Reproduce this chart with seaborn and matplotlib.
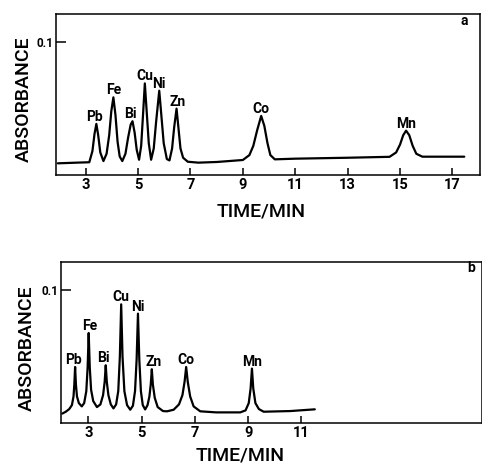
import matplotlib
matplotlib.use("Agg")
import matplotlib.pyplot as plt
import seaborn as sns
import pandas as pd

# ---------------- data ----------------
# panel a : chromatogram trace (time in min, absorbance)
time_a = [1.94, 2.80, 3.14, 3.26, 3.34, 3.41, 3.48, 3.56, 3.68,
          3.80, 3.90, 3.98, 4.06, 4.14, 4.22, 4.30, 4.40,
          4.52, 4.62, 4.72, 4.79, 4.87, 4.95, 5.04,
          5.12, 5.19, 5.26, 5.33, 5.41, 5.50,
          5.60, 5.69, 5.81, 5.89, 5.98, 6.10, 6.20,
          6.30, 6.38, 6.47, 6.54, 6.62, 6.72, 6.90, 7.30,
          8.00, 9.00, 9.25, 9.40, 9.55, 9.70, 9.82, 9.94, 10.05, 10.22,
          11.0, 13.0, 14.6, 14.85, 15.00, 15.12, 15.23, 15.35, 15.48, 15.62, 15.85, 17.45]
abs_a = [0.0088, 0.0094, 0.0096, 0.0180, 0.0310, 0.0385, 0.0300, 0.0170, 0.0105,
         0.0160, 0.0300, 0.0480, 0.0585, 0.0450, 0.0250, 0.0140, 0.0105,
         0.0160, 0.0280, 0.0380, 0.0405, 0.0320, 0.0190, 0.0115,
         0.0220, 0.0450, 0.0690, 0.0480, 0.0240, 0.0115,
         0.0200, 0.0400, 0.0635, 0.0450, 0.0240, 0.0120, 0.0110,
         0.0200, 0.0360, 0.0500, 0.0360, 0.0200, 0.0130, 0.0100, 0.0093,
         0.0098, 0.0113, 0.0150, 0.0220, 0.0340, 0.0445, 0.0370, 0.0240, 0.0150, 0.0118,
         0.0123, 0.0130, 0.0137, 0.0170, 0.0230, 0.0300, 0.0334, 0.0300, 0.0220, 0.0160, 0.0138, 0.0138]

# panel b : chromatogram trace
time_b = [2.02, 2.15, 2.28, 2.38, 2.44, 2.47, 2.50, 2.53, 2.57, 2.64, 2.75,
          2.84, 2.92, 2.97, 3.01, 3.05, 3.10, 3.18, 3.32,
          3.45, 3.55, 3.61, 3.65, 3.69, 3.75, 3.84, 3.94,
          4.04, 4.12, 4.18, 4.23, 4.28, 4.35, 4.45, 4.57,
          4.67, 4.75, 4.81, 4.86, 4.91, 4.97, 5.04, 5.13,
          5.22, 5.29, 5.34, 5.38, 5.42, 5.49, 5.60, 5.80, 5.95,
          6.20, 6.40, 6.53, 6.61, 6.67, 6.73, 6.82, 6.95, 7.20,
          7.80, 8.70, 8.90, 9.02, 9.09, 9.14, 9.19, 9.27, 9.40, 9.58,
          10.58, 11.50]
abs_b = [0.0071, 0.0085, 0.0105, 0.0135, 0.0200, 0.0290, 0.0422, 0.0290, 0.0200, 0.0150, 0.0125,
         0.0150, 0.0240, 0.0420, 0.0678, 0.0420, 0.0250, 0.0165, 0.0120,
         0.0140, 0.0210, 0.0310, 0.0435, 0.0310, 0.0210, 0.0140, 0.0110,
         0.0140, 0.0240, 0.0500, 0.0894, 0.0500, 0.0240, 0.0135, 0.0100,
         0.0130, 0.0240, 0.0480, 0.0824, 0.0480, 0.0240, 0.0135, 0.0102,
         0.0135, 0.0200, 0.0290, 0.0405, 0.0290, 0.0190, 0.0120, 0.0090, 0.0088,
         0.0100, 0.0140, 0.0210, 0.0310, 0.0422, 0.0310, 0.0200, 0.0125, 0.0088,
         0.0080, 0.0080, 0.0095, 0.0150, 0.0260, 0.0410, 0.0260, 0.0150, 0.0105, 0.0085,
         0.0090, 0.0103]

# peak labels
elements = ["Pb", "Fe", "Bi", "Cu", "Ni", "Zn", "Co", "Mn"]
peak_t_a = [3.41, 4.06, 4.79, 5.26, 5.81, 6.47, 9.70, 15.23]
peak_h_a = [0.0385, 0.0585, 0.0405, 0.0690, 0.0635, 0.0500, 0.0445, 0.0334]
peak_t_b = [2.50, 3.01, 3.65, 4.23, 4.86, 5.38, 6.67, 9.14]
peak_h_b = [0.0422, 0.0678, 0.0435, 0.0894, 0.0824, 0.0405, 0.0422, 0.0410]

xticks_a = [3, 5, 7, 9, 11, 13, 15, 17]
xticks_b = [3, 5, 7, 9, 11]
yticks = [0.1]
ytick_labels = ["0.1"]

# ---------------- style ----------------
sns.set_theme(style="ticks")
FONT = ["Roboto", "DejaVu Sans"]
plt.rcParams["font.family"] = FONT

W, H = 482, 465
fig = plt.figure(figsize=(W / 100, H / 100), dpi=100)

def px_axes(l, r, t, b):
    return fig.add_axes([l / W, 1 - b / H, (r - l) / W, (b - t) / H])

ax_a = px_axes(56, 480, 14, 175)
ax_b = px_axes(61, 481.5, 262, 423)

panels = [
    (ax_a, time_a, abs_a, peak_t_a, peak_h_a, xticks_a, (1.87, 18.05), "a", (0.485, -0.17), (-0.055, 0.47), (0.972, 0.957)),
    (ax_b, time_b, abs_b, peak_t_b, peak_h_b, xticks_b, (1.97, 17.76), "b", (0.426, -0.145), (-0.06, 0.467), (0.986, 0.965)),
]

label_dx = [-2, 0.5, -2.5, 0, 0, 1.5, 0, 0]

for ax, t, a, pt, ph, xt, xl, tag, xlc, ylc, tagpos in panels:
    df = pd.DataFrame({"time": t, "absorbance": a})
    sns.lineplot(data=df, x="time", y="absorbance", ax=ax, color="black",
                 linewidth=1.6, estimator=None, sort=False)
    ax.set_xlim(*xl)
    ax.set_ylim(0, 0.1213)
    ax.set_xticks(xt)
    ax.set_xticklabels([str(v) for v in xt], fontsize=10.5, fontweight="bold")
    ax.set_yticks(yticks)
    ax.set_yticklabels(ytick_labels, fontsize=8.5, fontweight="bold")
    ax.tick_params(axis="x", direction="in", length=5, width=1.1, pad=2.5, colors="black")
    ax.tick_params(axis="y", direction="in", length=7, width=1.1, pad=2, colors="black")
    for s in ax.spines.values():
        s.set_visible(True)
        s.set_linewidth(1.1)
        s.set_color("black")
    ax.set_xlabel("TIME/MIN", fontsize=14, fontweight="medium", color="black")
    ax.set_ylabel("ABSORBANCE", fontsize=14, fontweight="medium", color="black")
    ax.xaxis.set_label_coords(*xlc)
    ax.yaxis.set_label_coords(*ylc)
    for name, x, y, dx in zip(elements, pt, ph, label_dx):
        ax.annotate(name, (x, y), xytext=(dx * 0.72, 2.2), textcoords="offset points",
                    ha="center", va="baseline", fontsize=10, fontweight="bold", color="black")
    ax.text(tagpos[0], tagpos[1], tag, transform=ax.transAxes, ha="right", va="center",
            fontsize=10, fontweight="bold", color="black")

fig.savefig("out.png", dpi=100)
